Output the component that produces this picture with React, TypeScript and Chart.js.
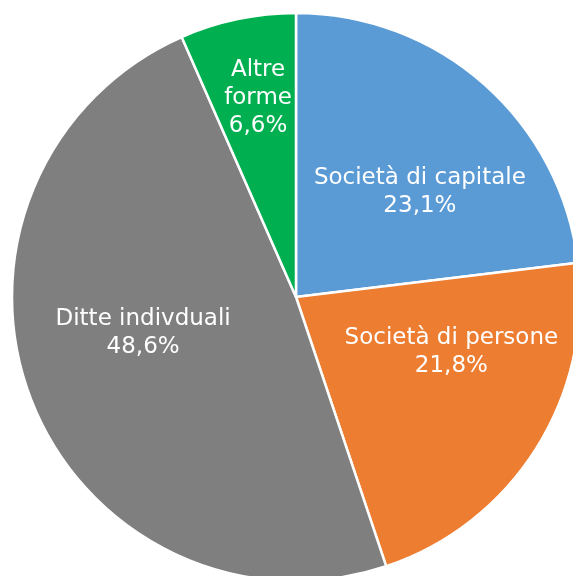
import React, { useEffect, useRef } from "react";
import { Chart, registerables } from "chart.js";

Chart.register(...registerables);

const categories = ["Società di capitale", "Società di persone", "Ditte indivduali", "Altre forme"];
const labelLines = [["Società di capitale"], ["Società di persone"], ["Ditte indivduali"], ["Altre", "forme"]];
const values = [23.1, 21.8, 48.6, 6.6];
const colors = ["#5B9BD5", "#ED7D31", "#7F7F7F", "#00B050"];

// label anchor: angle from 12 o'clock (deg, clockwise) and fraction of radius
const labelAngles = [49.7, 109.4, 256.8, 349.2];
const labelFracs = [0.572, 0.58, 0.553, 0.713];

const labelPlugin = {
  id: "sliceLabels",
  afterDatasetsDraw(chart: any) {
    const ctx = chart.ctx;
    const meta = chart.getDatasetMeta(0);
    const arc0 = meta.data[0];
    if (!arc0) return;
    const cx = arc0.x;
    const cy = arc0.y;
    const r = arc0.outerRadius;
    ctx.save();
    ctx.fillStyle = "#FFFFFF";
    ctx.font = '23px "DejaVu Sans", Verdana, sans-serif';
    ctx.textAlign = "center";
    ctx.textBaseline = "middle";
    const lh = 28;
    values.forEach((v, i) => {
      const a = (labelAngles[i] * Math.PI) / 180;
      const x = cx + Math.sin(a) * r * labelFracs[i];
      const y = cy - Math.cos(a) * r * labelFracs[i];
      const lines = [...labelLines[i], v.toFixed(1).replace(".", ",") + "%"];
      const top = y - ((lines.length - 1) * lh) / 2;
      lines.forEach((ln, j) => ctx.fillText(ln, x, top + j * lh));
    });
    ctx.restore();
  },
};

export default function App() {
  const ref = useRef<HTMLCanvasElement>(null);
  useEffect(() => {
    if (!ref.current) return;
    const chart = new Chart(ref.current, {
      type: "pie",
      data: {
        labels: categories,
        datasets: [
          {
            data: values,
            backgroundColor: colors,
            borderColor: "#FFFFFF",
            borderWidth: 2.5,
          },
        ],
      },
      options: {
        responsive: false,
        animation: false,
        radius: 284,
        layout: { padding: 0 },
        plugins: { legend: { display: false }, tooltip: { enabled: false } },
      } as any,
      plugins: [labelPlugin],
    });
    return () => chart.destroy();
  }, []);
  return (
    <div
      style={{
        position: "fixed",
        left: 0,
        top: 0,
        width: 573,
        height: 576,
        overflow: "hidden",
        background: "#FFFFFF",
      }}
    >
      <canvas
        ref={ref}
        width={576}
        height={576}
        style={{ display: "block", position: "absolute", left: 8, top: 9 }}
      />
    </div>
  );
}
